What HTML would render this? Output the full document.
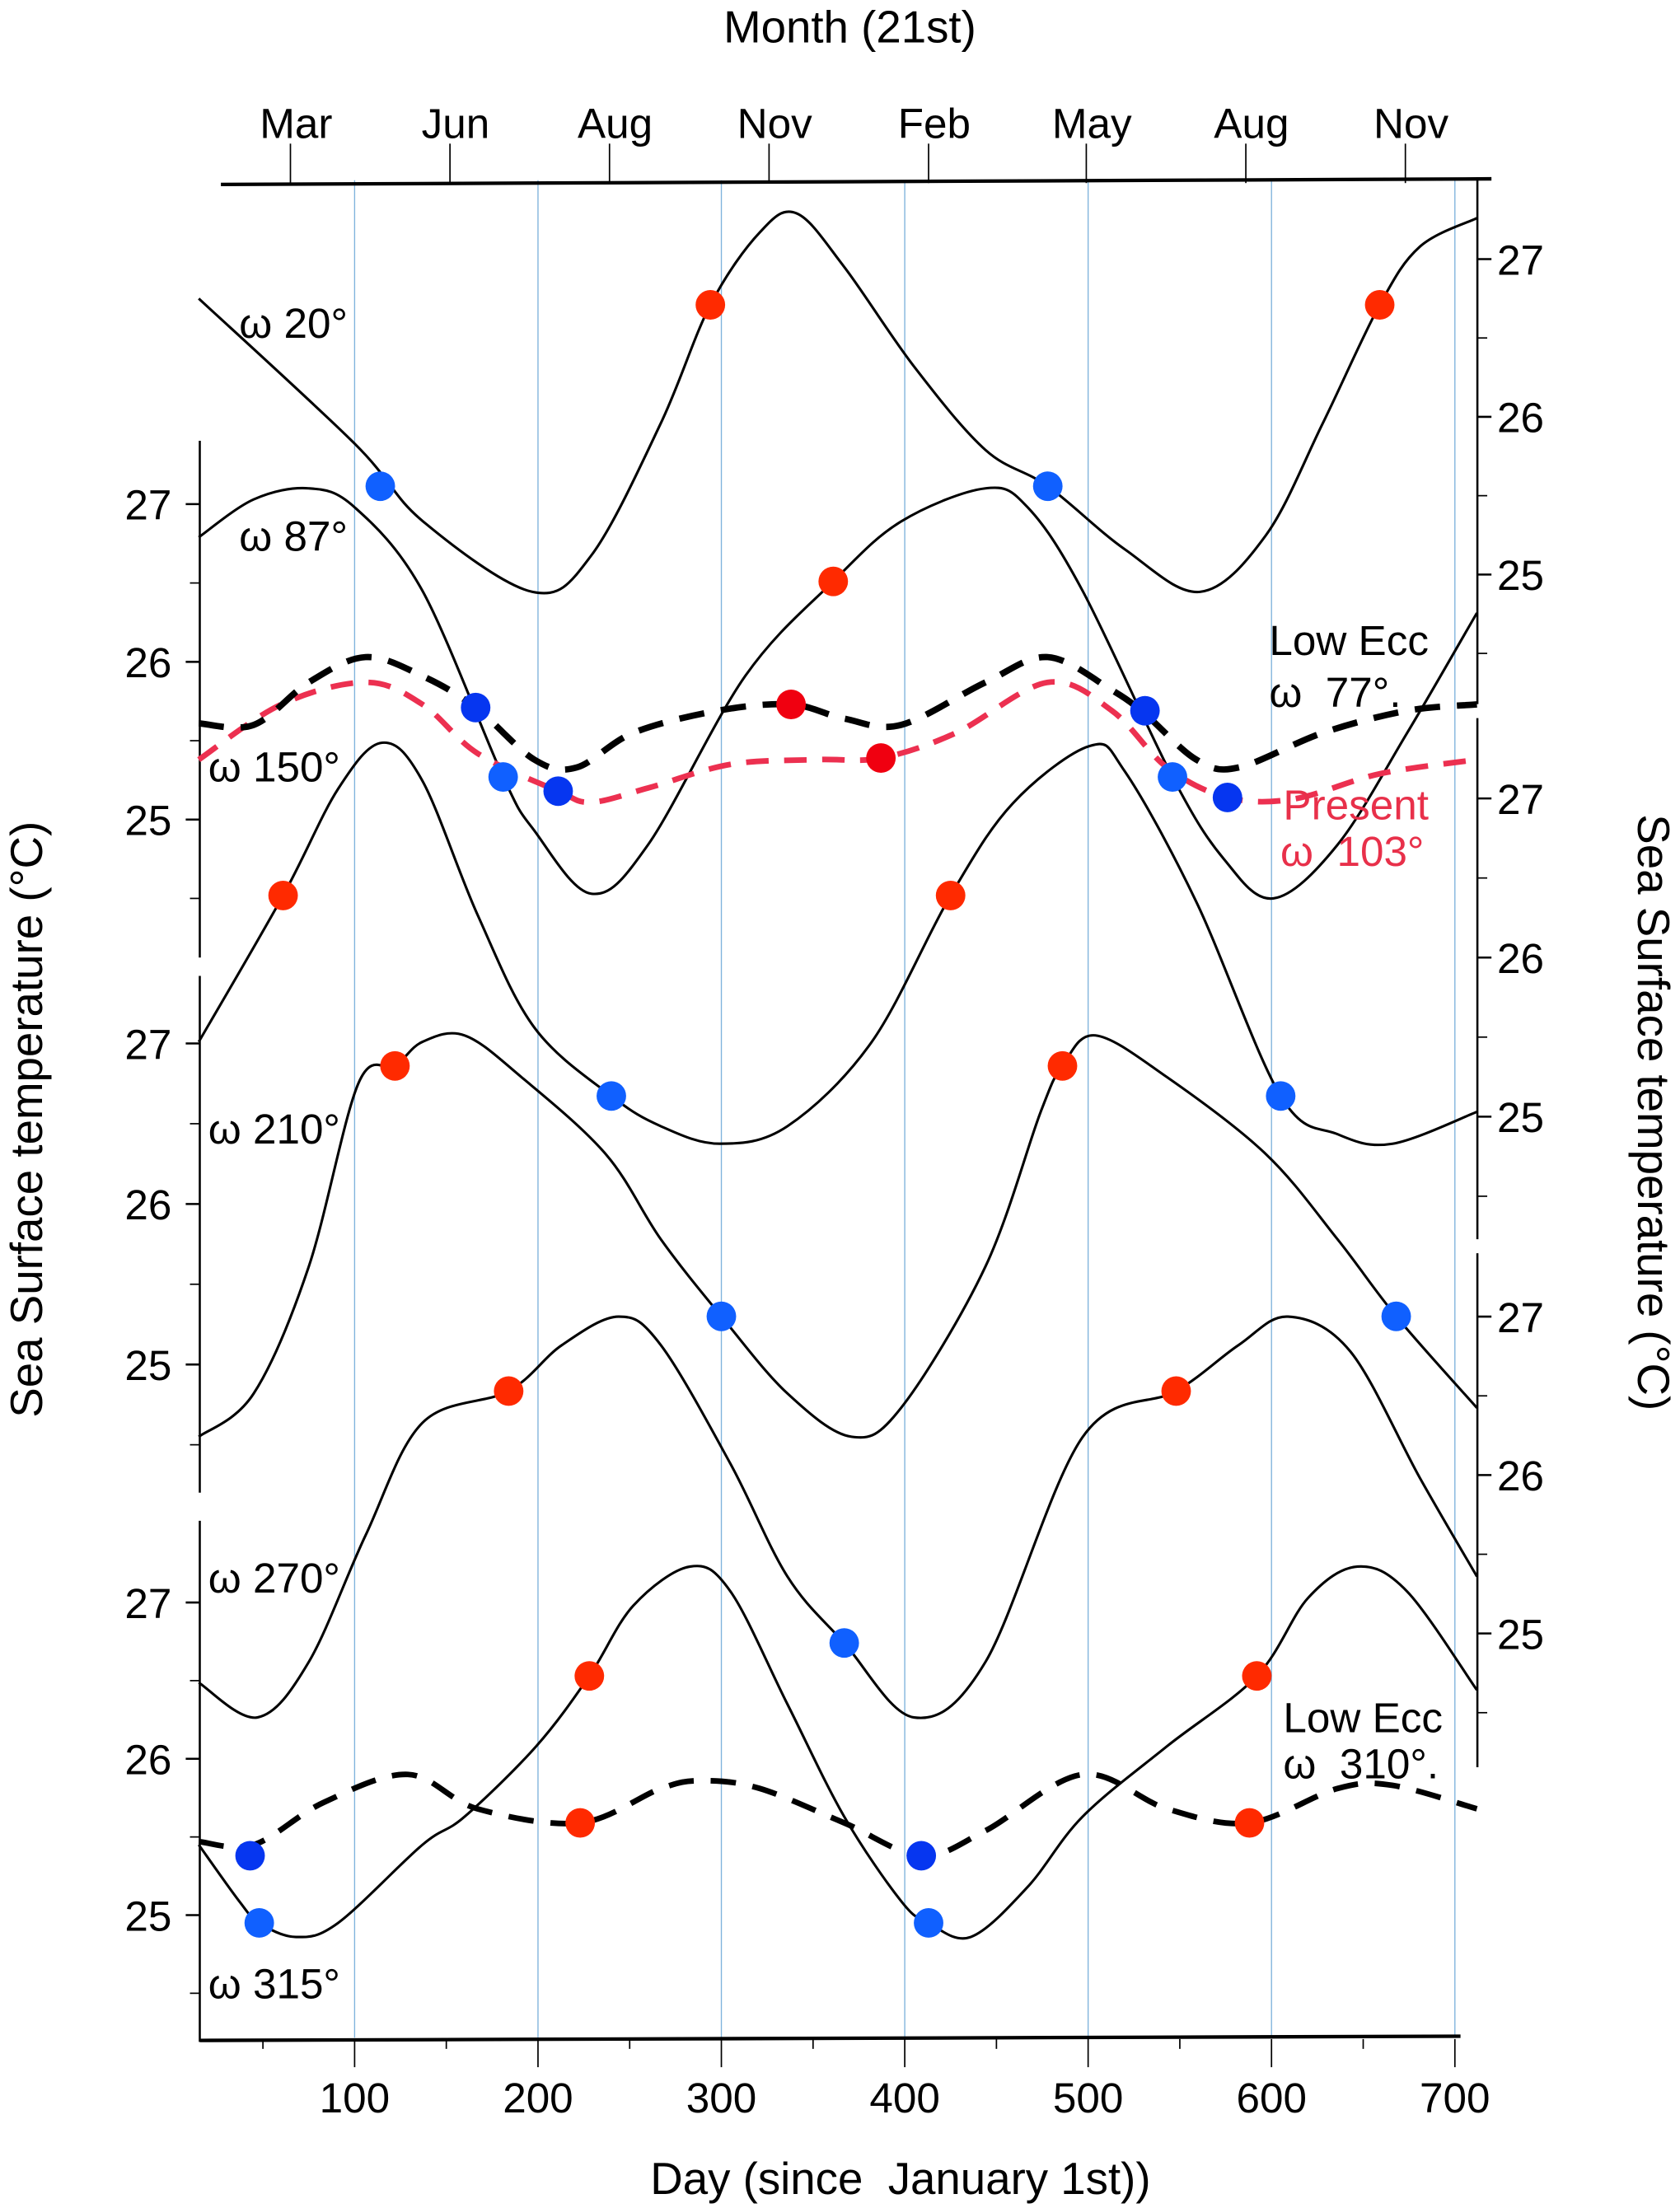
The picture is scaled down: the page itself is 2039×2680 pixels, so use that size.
<!DOCTYPE html>
<html><head><meta charset="utf-8"><style>
html,body{margin:0;padding:0;background:#fff;}
svg{display:block;font-family:"Liberation Sans",Arial,sans-serif;}
</style></head><body>
<svg id="chart" width="2039" height="2680" viewBox="0 0 1194 1568" preserveAspectRatio="none" xmlns="http://www.w3.org/2000/svg">
<g id="grid"></g><g id="axes"></g><g id="curves"></g><g id="dots"></g><g id="labels"></g>
</svg>
<script>
// ---- data ----
const dayTicks = [100,200,300,400,500,600,700];
const monthLabels = ["Mar","Jun","Aug","Nov","Feb","May","Aug","Nov"];
const monthDays = [65,152,239,326,413,499,586,673];
const tempTicks = [27,26,25];

const w20Days = [15,100,137,197,229,267,294,321,341,367,405,444,478,520,561,597,628,659,681,712];
const w20Temp = [26.75,25.83,25.34,24.89,25.12,25.96,26.71,27.17,27.29,26.95,26.32,25.79,25.56,25.16,24.89,25.25,25.96,26.71,27.08,27.26];

const w87Days = [15,45,75,100,137,181,198,229,260,313,361,398,444,467,497,546,574,601,636,674,712];
const w87Temp = [26.79,27.03,27.10,26.98,26.45,25.27,24.93,24.53,24.84,25.91,26.51,26.89,27.10,26.98,26.45,25.27,24.75,24.50,24.84,25.55,26.31];

const low77Days = [15,45,75,106,137,166,198,221,252,298,338,367,398,444,478,513,531,559,582,628,674,712];
const low77Temp = [25.61,25.60,25.87,26.03,25.91,25.71,25.38,25.33,25.55,25.69,25.73,25.64,25.60,25.87,26.03,25.82,25.67,25.38,25.33,25.55,25.69,25.73];

const presDays = [15,60,106,137,167,211,229,260,305,352,387,428,478,513,543,576,612,659,712];
const presTemp = [25.38,25.73,25.87,25.73,25.42,25.18,25.11,25.20,25.35,25.38,25.39,25.55,25.87,25.69,25.33,25.14,25.13,25.29,25.38];

const w150Days = [15,61,91,115,137,167,198,240,267,299,336,382,425,459,501,520,559,605,636,666,712];
const w150Temp = [25.47,26.39,27.06,27.35,27.11,26.27,25.56,25.13,24.94,24.83,24.94,25.47,26.39,26.97,27.33,27.17,26.35,25.13,24.89,24.83,25.03];

const w210Days = [15,45,75,102,122,137,160,191,237,267,300,336,371,398,444,474,486,504,543,597,636,668,712];
const w210Temp = [24.55,24.82,25.61,26.75,26.86,27.01,27.05,26.79,26.31,25.78,25.30,24.82,24.55,24.73,25.61,26.57,26.86,27.05,26.79,26.31,25.78,25.30,24.73];

const w270Days = [15,47,75,106,137,184,213,244,267,305,336,367,405,444,497,548,582,609,643,681,712];
const w270Temp = [24.69,24.47,24.82,25.62,26.33,26.53,26.82,27.00,26.82,26.07,25.36,24.94,24.47,24.82,26.24,26.53,26.82,27.00,26.78,25.98,25.36];

const w315Days = [15,37,48,68,91,137,160,199,228,252,283,305,336,367,398,413,436,467,497,543,592,620,647,674,712];
const w315Temp = [25.45,25.09,24.95,24.86,24.95,25.45,25.63,26.08,26.53,26.98,27.23,27.07,26.35,25.63,25.09,24.95,24.86,25.18,25.63,26.08,26.53,27.03,27.23,27.07,26.44];

const low310Days = [15,45,83,129,167,223,267,290,321,367,409,444,497,543,588,636,666,712];
const low310Temp = [25.47,25.45,25.72,25.90,25.68,25.59,25.81,25.86,25.81,25.59,25.38,25.54,25.90,25.68,25.59,25.81,25.83,25.68];

// dots: day, temp
const dotW20Red = [[294,26.71],[659,26.71]], dotW20Blue=[[114,25.56],[478,25.56]];
const dotW87Red = [[361,26.51]], dotW87Blue=[[181,25.27],[546,25.27]];
const dotL77Red = [[338,25.73]], dotL77Blue=[[166,25.71],[531,25.69]];
const dotPresRed = [[387,25.39]], dotPresBlue=[[211,25.18],[576,25.14]];
const dotW150Red = [[61,26.39],[425,26.39]], dotW150Blue=[[240,25.13],[605,25.13]];
const dotW210Red = [[122,26.86],[486,26.86]], dotW210Blue=[[300,25.30],[668,25.30]];
const dotW270Red = [[184,26.53],[548,26.53]], dotW270Blue=[[367,24.94]];
const dotW315Red = [[228,26.53],[592,26.53]], dotW315Blue=[[48,24.95],[413,24.95]];
const dotL310Red = [[223,25.59],[588,25.59]], dotL310Blue=[[43,25.38],[409,25.38]];

// ---- scales ----
const NS="http://www.w3.org/2000/svg";
function xs(d){return 121.7 + d*1.3033;}
const panels = {
  R1:{y27:184,pp:112}, L1:{y27:358,pp:112}, R2:{y27:567,pp:113},
  L2:{y27:741,pp:114}, R3:{y27:935,pp:112.5}, L3:{y27:1138,pp:111}
};
function ys(p,t){return panels[p].y27 + (27-t)*panels[p].pp;}
function mk(tag,attrs,parent){const e=document.createElementNS(NS,tag);for(const k in attrs)e.setAttribute(k,attrs[k]);parent.appendChild(e);return e;}
const G=id=>document.getElementById(id);

// grid lines
dayTicks.forEach(d=>{
  const l=mk('line',{x1:xs(d),x2:xs(d),y1:128,y2:1447,stroke:'#7fb3dc','stroke-width':0.8},G('grid'));
  
  
});

// axes
const ax=G('axes');
let e=mk('line',{x1:142,y1:1449,x2:1038,y2:1446,stroke:'#000','stroke-width':2.5},ax);


for(let d=50;d<=700;d+=50){
  const big=d%100===0;
  mk('line',{x1:xs(d),x2:xs(d),y1:1448,y2:big?1468:1455,stroke:'#000','stroke-width':1},ax);
}
dayTicks.forEach(d=>{
  const t=mk('text',{x:xs(d),y:1500,'font-size':30,'text-anchor':'middle'},ax);t.textContent=d;
  
  
});
e=mk('line',{x1:157,y1:131,x2:1060,y2:127,stroke:'#000','stroke-width':2.5},ax);


monthLabels.forEach((m,i)=>{
  const x=xs(monthDays[i]);
  mk('line',{x1:x,x2:x,y1:102,y2:130,stroke:'#000','stroke-width':1},ax);
  const t=mk('text',{x:x+4,y:98,'font-size':30,'text-anchor':'middle'},ax);t.textContent=m;
  
  
});
// y axes
function yAxis(p,x,y0,y1,side){
  const l=mk('line',{x1:x,x2:x,y1:y0,y2:y1,stroke:'#000','stroke-width':1.5},ax);
  
  
  const dir=side==='L'?-1:1;
  tempTicks.forEach(t=>{
    const y=ys(p,t);
    mk('line',{x1:x,x2:x+dir*10,y1:y,y2:y,stroke:'#000','stroke-width':1.5},ax);
    const yh=ys(p,t-0.5);
    mk('line',{x1:x,x2:x+dir*7,y1:yh,y2:yh,stroke:'#000','stroke-width':1},ax);
    const tx=mk('text',{x:side==='L'?x-20:x+14,y:y+11,'font-size':30,'text-anchor':side==='L'?'end':'start'},ax);
    tx.textContent=t;
    
    
  });
}
yAxis('L1',142,313,680,'L');yAxis('L2',142,693,1060,'L');yAxis('L3',142,1080,1450,'L');
yAxis('R1',1050,128,500,'R');yAxis('R2',1050,510,880,'R');yAxis('R3',1050,890,1255,'R');

// curves
function path(days,temps,p){
  const pts=days.map((d,i)=>[xs(d),ys(p,temps[i])]);
  let s='M'+pts[0][0]+','+pts[0][1];
  for(let i=0;i<pts.length-1;i++){
    const p0=pts[Math.max(0,i-1)],p1=pts[i],p2=pts[i+1],p3=pts[Math.min(pts.length-1,i+2)];
    const c1=[p1[0]+(p2[0]-p0[0])/6,p1[1]+(p2[1]-p0[1])/6];
    const c2=[p2[0]-(p3[0]-p1[0])/6,p2[1]-(p3[1]-p1[1])/6];
    s+=' C'+c1+' '+c2+' '+p2;
  }
  return s;
}
function curve(name,days,temps,p,stroke,w,dash){
  const a={d:path(days,temps,p),fill:'none',stroke:stroke,'stroke-width':w};
  if(dash)a['stroke-dasharray']=dash;
  const c=mk('path',a,G('curves'));
  
  
}
curve('curve-omega-20',w20Days,w20Temp,'R1','#000',1.8);
curve('curve-omega-87',w87Days,w87Temp,'L1','#000',1.8);
curve('curve-omega-150',w150Days,w150Temp,'R2','#000',1.8);
curve('curve-omega-210',w210Days,w210Temp,'L2','#000',1.8);
curve('curve-omega-270',w270Days,w270Temp,'R3','#000',1.8);
curve('curve-omega-315',w315Days,w315Temp,'L3','#000',1.8);
curve('curve-present-103',presDays,presTemp,'L1','#ec3050',4,'16 11');
curve('curve-low-ecc-77',low77Days,low77Temp,'L1','#000',4.5,'18 12');
curve('curve-low-ecc-310',low310Days,low310Temp,'L3','#000',4,'18 12');

// dots
function dots(name,arr,p,col){
  arr.forEach(v=>{
    const c=mk('circle',{cx:xs(v[0]),cy:ys(p,v[1]),r:10.5,fill:col},G('dots'));
    
    
  });
}
const RED='#ff2a00',BLUE='#1060ff',DRED='#f00010',DBLUE='#0636f0';
dots('dot-omega20-red',dotW20Red,'R1',RED);dots('dot-omega20-blue',dotW20Blue,'R1',BLUE);
dots('dot-omega87-red',dotW87Red,'L1',RED);dots('dot-omega87-blue',dotW87Blue,'L1',BLUE);
dots('dot-lowecc77-red',dotL77Red,'L1',DRED);dots('dot-lowecc77-blue',dotL77Blue,'L1',DBLUE);
dots('dot-present-red',dotPresRed,'L1',DRED);dots('dot-present-blue',dotPresBlue,'L1',DBLUE);
dots('dot-omega150-red',dotW150Red,'R2',RED);dots('dot-omega150-blue',dotW150Blue,'R2',BLUE);
dots('dot-omega210-red',dotW210Red,'L2',RED);dots('dot-omega210-blue',dotW210Blue,'L2',BLUE);
dots('dot-omega270-red',dotW270Red,'R3',RED);dots('dot-omega270-blue',dotW270Blue,'R3',BLUE);
dots('dot-omega315-red',dotW315Red,'L3',RED);dots('dot-omega315-blue',dotW315Blue,'L3',BLUE);
dots('dot-lowecc310-red',dotL310Red,'L3',RED);dots('dot-lowecc310-blue',dotL310Blue,'L3',DBLUE);
</script>
<script>
// text labels
(function(){
const NS="http://www.w3.org/2000/svg",L=document.getElementById('labels');
function t(name,x,y,s,txt,col,anchor,rot){
  const e=document.createElementNS(NS,'text');
  e.setAttribute('x',x);e.setAttribute('y',y);e.setAttribute('font-size',s);
  e.setAttribute('fill',col||'#000');
  e.setAttribute('style','white-space:pre');
  if(anchor)e.setAttribute('text-anchor',anchor);
  if(rot)e.setAttribute('transform','rotate('+rot+' '+x+' '+y+')');
  e.textContent=txt;
  
  
  L.appendChild(e);
}
t('chart-title',604,30,32,'Month (21st)','#000','middle');
t('x-axis-title',640,1558,32,'Day (since  January 1st))','#000','middle');
t('y-axis-title-left',30,795,32,'Sea Surface temperature (°C)','#000','middle',-90);
t('y-axis-title-right',1164,790,32,'Sea Surface temperature (°C)','#000','middle',90);
t('label-omega-20',170,240,30,'ω 20°');
t('label-omega-87',170,391,30,'ω 87°');
t('label-omega-150',148,555,30,'ω 150°');
t('label-omega-210',148,812,30,'ω 210°');
t('label-omega-270',148,1131,30,'ω 270°');
t('label-omega-315',148,1419,30,'ω 315°');
t('label-low-ecc-77',902,465,30,'Low Ecc');
t('label-omega-77',902,502,30,'ω  77°.');
t('label-present',912,582,30,'Present','#e8304a');
t('label-omega-103',910,615,30,'ω  103°','#e8304a');
t('label-low-ecc-310',912,1230,30,'Low Ecc');
t('label-omega-310',912,1263,30,'ω  310°.');
})();
</script>
</body></html>
